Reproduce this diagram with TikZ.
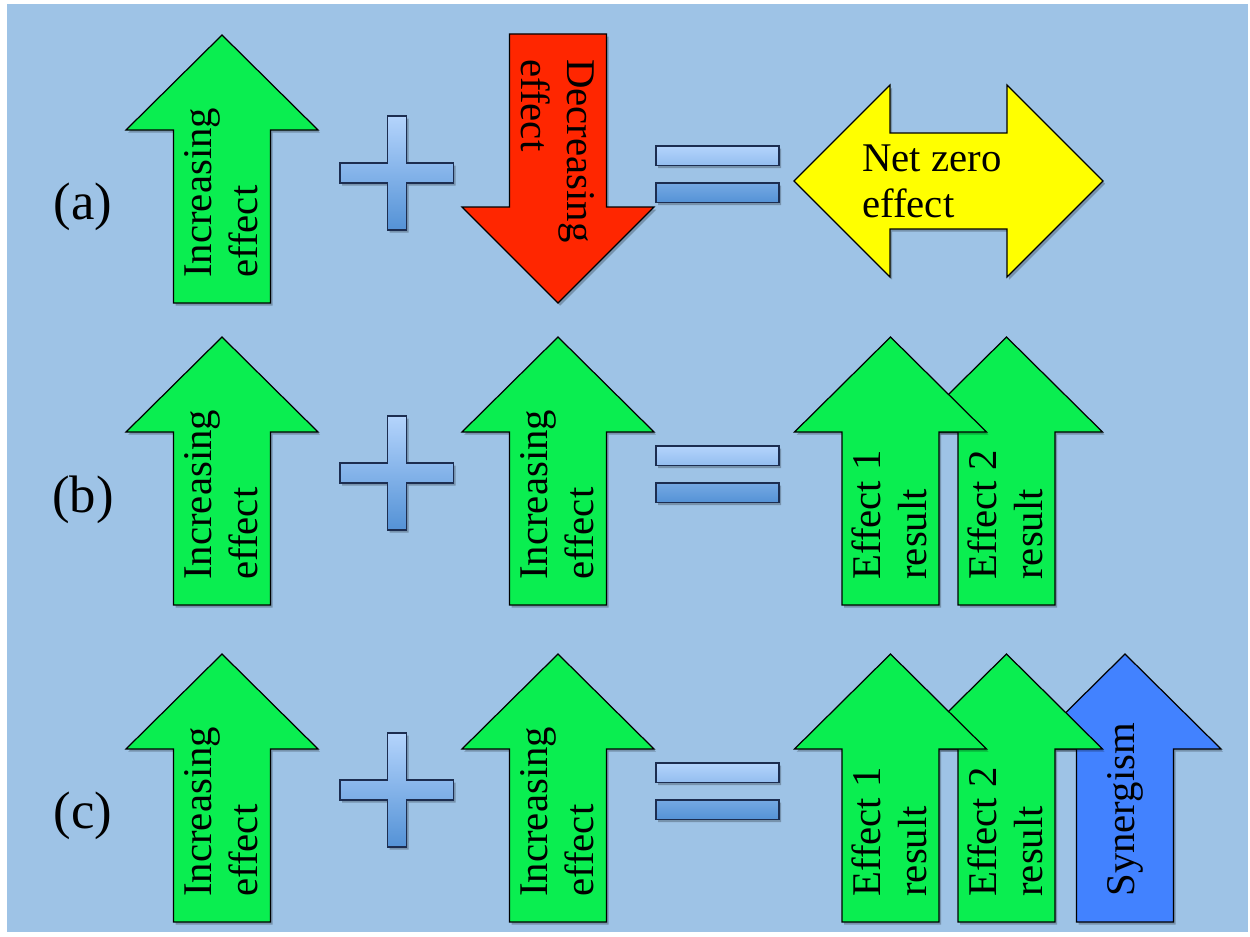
\documentclass[tikz,border=0pt]{standalone}
\usepackage{fontspec}
\setmainfont{Liberation Serif}
\usetikzlibrary{shadows}

\definecolor{bgblue}{RGB}{158,195,230}
\definecolor{incgreen}{RGB}{10,238,80}
\definecolor{decred}{RGB}{255,38,0}
\definecolor{netyellow}{RGB}{255,255,0}
\definecolor{synblue}{RGB}{66,130,255}
\definecolor{optop}{RGB}{180,212,252}
\definecolor{opbottom}{RGB}{84,146,214}
\definecolor{opline}{RGB}{28,45,80}

\tikzset{
    softshadow/.style={drop shadow={shadow xshift=1.2pt,shadow yshift=-1.5pt,fill=black,opacity=0.25}},
    arrowshape/.style={draw=black,line width=0.7pt,softshadow},
    opshape/.style={draw=opline,line width=0.9pt,top color=optop,bottom color=opbottom,softshadow},
    arrowtext/.style={inner sep=0pt,align=left,font=\fontsize{23.2}{26.1}\selectfont},
    uptext/.style={arrowtext,rotate=90,anchor=west},
    rowlabel/.style={inner sep=0pt,font=\fontsize{30}{36}\selectfont}
}

% up arrow: centre x, tip y, fill
\newcommand\uparr[3]{%
    \filldraw[arrowshape,fill=#3] (#1,#2) -- (#1+96,#2+95) -- (#1+48.5,#2+95) -- (#1+48.5,#2+268)
        -- (#1-48.5,#2+268) -- (#1-48.5,#2+95) -- (#1-96,#2+95) -- cycle;}

\begin{document}
\begin{tikzpicture}[x=0.02cm,y=-0.02cm]
    \useasboundingbox (0,0) rectangle (1250,936);
    \fill[white] (0,0) rectangle (1250,936);
    \fill[bgblue] (7,4) rectangle (1248,932);

    \foreach \row/\ly/\ty/\sy in {a/207/35/173, b/500/337/473, c/816/654/790}{
      \node[rowlabel] (lab-\row) at (83,\ly) {(\row)};
      \uparr{222}{\ty}{incgreen}
      \node[uptext] (inc1-\row) at (221,\ty+243) {Increasing\\effect};
      \filldraw[opshape] (387.5,\sy-57) -- (406.5,\sy-57) -- (406.5,\sy-10) -- (453.5,\sy-10)
        -- (453.5,\sy+10) -- (406.5,\sy+10) -- (406.5,\sy+57) -- (387.5,\sy+57)
        -- (387.5,\sy+10) -- (340,\sy+10) -- (340,\sy-10) -- (387.5,\sy-10) -- cycle;
      \filldraw[opshape] (656,\sy-27) rectangle (779,\sy-7.5) (656,\sy+10) rectangle (779,\sy+29.5);
    }

    \filldraw[arrowshape,fill=decred] (509.5,34) -- (606.5,34) -- (606.5,207) -- (654,207)
      -- (558,303) -- (462,207) -- (509.5,207) -- cycle;
    \node[arrowtext,rotate=-90,anchor=west] (dec) at (558,59) {Decreasing\\effect};

    \filldraw[arrowshape,fill=netyellow] (794,181) -- (890,85) -- (890,133) -- (1007,133)
      -- (1007,85) -- (1103,181) -- (1007,277) -- (1007,229) -- (890,229) -- (890,277) -- cycle;
    \node[arrowtext,anchor=west] (net) at (862,181) {Net zero\\effect};

    \uparr{1125}{654}{synblue}
    \node[uptext] (syn) at (1125,897) {Synergism};

    \foreach \row/\ty in {b/337, c/654}{
      \uparr{558}{\ty}{incgreen}
      \node[uptext] (inc2-\row) at (557,\ty+243) {Increasing\\effect};
      \uparr{1006.5}{\ty}{incgreen}
      \node[uptext] (eff2-\row) at (1005.5,\ty+243) {Effect 2\\result};
      \uparr{890.5}{\ty}{incgreen}
      \node[uptext] (eff1-\row) at (889.5,\ty+243) {Effect 1\\result};
    }
\end{tikzpicture}
\end{document}
